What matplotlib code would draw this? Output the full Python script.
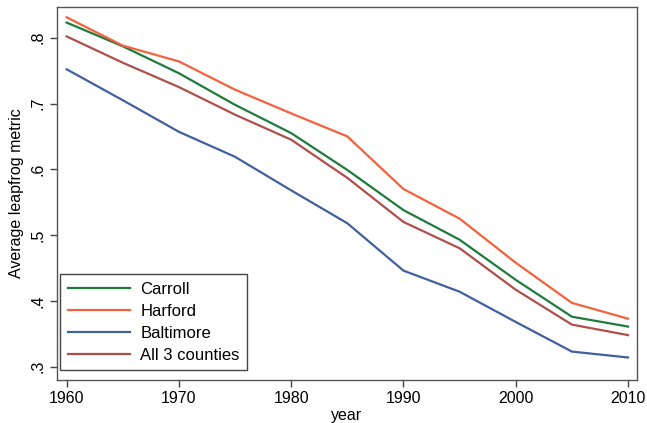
import matplotlib
matplotlib.use('Agg')
import matplotlib.pyplot as plt

plt.rcParams['font.family'] = ['Liberation Sans', 'DejaVu Sans']

years = [1960, 1965, 1970, 1975, 1980, 1985, 1990, 1995, 2000, 2005, 2010]
carroll = [0.823, 0.787, 0.746, 0.698, 0.655, 0.599, 0.538, 0.493, 0.432, 0.376, 0.361]
harford = [0.831, 0.788, 0.764, 0.721, 0.685, 0.650, 0.570, 0.525, 0.458, 0.397, 0.373]
baltimore = [0.752, 0.705, 0.657, 0.619, 0.568, 0.518, 0.446, 0.414, 0.368, 0.323, 0.314]
all3 = [0.802, 0.762, 0.725, 0.683, 0.645, 0.587, 0.520, 0.480, 0.417, 0.364, 0.348]

y_ticks = [0.3, 0.4, 0.5, 0.6, 0.7, 0.8]
y_labels = ['.3', '.4', '.5', '.6', '.7', '.8']
x_ticks = [1960, 1970, 1980, 1990, 2000, 2010]

fig = plt.figure(figsize=(6.47, 4.23), dpi=100)
ax = fig.add_axes([57 / 647, 1 - 380 / 423, 580 / 647, 373 / 423])

ax.plot(years, carroll, color='#1e7b3c', lw=1.6, label='Carroll')
ax.plot(years, harford, color='#f4623d', lw=1.6, label='Harford')
ax.plot(years, baltimore, color='#41609f', lw=1.6, label='Baltimore')
ax.plot(years, all3, color='#b04f4a', lw=1.6, label='All 3 counties')

ax.set_xlim(1959.14, 2010.8)
ax.set_ylim(0.2798, 0.8467)
ax.set_xticks(x_ticks)
ax.set_yticks(y_ticks)
ax.set_yticklabels(y_labels, rotation=90, va='center')
ax.tick_params(axis='both', direction='out', length=5, width=1, color='#444444',
               labelsize=11.5, pad=3)

for s in ax.spines.values():
    s.set_color('#555555')
    s.set_linewidth(1.0)

ax.set_xlabel('year', fontsize=11.5, labelpad=1)
ax.set_ylabel('Average leapfrog metric', fontsize=11.5, labelpad=5)

leg = ax.legend(loc='lower left', bbox_to_anchor=(0.006, 0.026), fontsize=12,
                fancybox=False, framealpha=1, edgecolor='#444444',
                handlelength=3.7, handletextpad=0.65, borderpad=0.45,
                labelspacing=0.42, borderaxespad=0)
leg.get_frame().set_linewidth(1.0)

fig.savefig('out.png', dpi=100)
